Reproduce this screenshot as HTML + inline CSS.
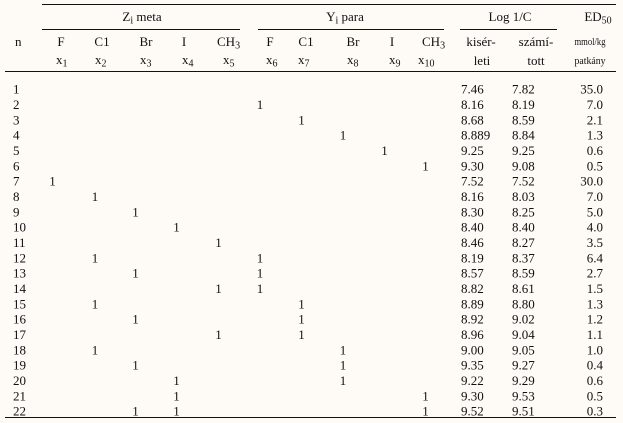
<!DOCTYPE html>
<html>
<head>
<meta charset="utf-8">
<style>
html,body{margin:0;padding:0;background:#fefaf6;}
svg{display:block;}
text{font-family:"Liberation Serif","DejaVu Serif",serif;font-size:13px;fill:#111;}
.s{font-size:10px;}
.sm{font-size:10px;}
</style>
</head>
<body>
<svg width="623" height="423" viewBox="0 0 623 423" xmlns="http://www.w3.org/2000/svg">
<rect x="0" y="0" width="623" height="423" fill="#fefaf6"/>
<!-- lines -->
<rect x="42" y="4" width="574" height="1" fill="#111"/>
<rect x="42" y="29" width="198" height="1" fill="#111"/>
<rect x="258" y="29" width="186" height="1" fill="#111"/>
<rect x="460" y="29" width="97" height="1" fill="#111"/>
<rect x="5" y="71" width="611" height="1" fill="#111"/>
<rect x="5" y="417" width="611" height="1" fill="#111"/>

<!-- header row 1 -->
<text x="142" y="21" text-anchor="middle">Z<tspan class="s" dy="2.5">i</tspan><tspan dy="-2.5"> meta</tspan></text>
<text x="345" y="21" text-anchor="middle">Y<tspan class="s" dy="2.5">i</tspan><tspan dy="-2.5"> para</tspan></text>
<text x="510" y="21" text-anchor="middle">Log 1/C</text>
<text x="598" y="21" text-anchor="middle">ED<tspan class="s" dy="2.5">50</tspan></text>

<!-- header row 2 -->
<text x="15" y="46">n</text>
<text x="61" y="46" text-anchor="middle">F</text>
<text x="102" y="46" text-anchor="middle">C1</text>
<text x="146" y="46" text-anchor="middle">Br</text>
<text x="184" y="46" text-anchor="middle">I</text>
<text x="217" y="46">CH<tspan class="s" dy="2.5">3</tspan></text>
<text x="270" y="46" text-anchor="middle">F</text>
<text x="306" y="46" text-anchor="middle">C1</text>
<text x="353" y="46" text-anchor="middle">Br</text>
<text x="392" y="46" text-anchor="middle">I</text>
<text x="422" y="46">CH<tspan class="s" dy="2.5">3</tspan></text>
<text x="481" y="46" text-anchor="middle">kisér-</text>
<text x="536" y="46" text-anchor="middle">számí-</text>
<text x="590" y="45" text-anchor="middle" class="sm" textLength="31" lengthAdjust="spacingAndGlyphs">mmol/kg</text>

<!-- header row 3 -->
<text x="56" y="64">x<tspan class="s" dy="2.5">1</tspan></text>
<text x="95" y="64">x<tspan class="s" dy="2.5">2</tspan></text>
<text x="140" y="64">x<tspan class="s" dy="2.5">3</tspan></text>
<text x="182" y="64">x<tspan class="s" dy="2.5">4</tspan></text>
<text x="223" y="64">x<tspan class="s" dy="2.5">5</tspan></text>
<text x="266" y="64">x<tspan class="s" dy="2.5">6</tspan></text>
<text x="298" y="64">x<tspan class="s" dy="2.5">7</tspan></text>
<text x="347" y="64">x<tspan class="s" dy="2.5">8</tspan></text>
<text x="389" y="64">x<tspan class="s" dy="2.5">9</tspan></text>
<text x="418" y="64">x<tspan class="s" dy="2.5">10</tspan></text>
<text x="482" y="65" text-anchor="middle">leti</text>
<text x="536" y="65" text-anchor="middle">tott</text>
<text x="590" y="64" text-anchor="middle" class="sm" textLength="31" lengthAdjust="spacingAndGlyphs">patkány</text>

<!-- data rows -->
<g>
<text x="13" y="93.7">1</text><text x="461" y="93.7">7.46</text><text x="512" y="93.7">7.82</text><text x="603" y="93.7" text-anchor="end">35.0</text>
<text x="13" y="109.0">2</text><text x="260" y="109.0" text-anchor="middle">1</text><text x="461" y="109.0">8.16</text><text x="512" y="109.0">8.19</text><text x="603" y="109.0" text-anchor="end">7.0</text>
<text x="13" y="124.4">3</text><text x="301.5" y="124.4" text-anchor="middle">1</text><text x="461" y="124.4">8.68</text><text x="512" y="124.4">8.59</text><text x="603" y="124.4" text-anchor="end">2.1</text>
<text x="13" y="139.7">4</text><text x="343" y="139.7" text-anchor="middle">1</text><text x="461" y="139.7">8.889</text><text x="512" y="139.7">8.84</text><text x="603" y="139.7" text-anchor="end">1.3</text>
<text x="13" y="155.0">5</text><text x="384.5" y="155.0" text-anchor="middle">1</text><text x="461" y="155.0">9.25</text><text x="512" y="155.0">9.25</text><text x="603" y="155.0" text-anchor="end">0.6</text>
<text x="13" y="170.4">6</text><text x="425.5" y="170.4" text-anchor="middle">1</text><text x="461" y="170.4">9.30</text><text x="512" y="170.4">9.08</text><text x="603" y="170.4" text-anchor="end">0.5</text>
<text x="13" y="185.7">7</text><text x="52.5" y="185.7" text-anchor="middle">1</text><text x="461" y="185.7">7.52</text><text x="512" y="185.7">7.52</text><text x="603" y="185.7" text-anchor="end">30.0</text>
<text x="13" y="201.0">8</text><text x="95" y="201.0" text-anchor="middle">1</text><text x="461" y="201.0">8.16</text><text x="512" y="201.0">8.03</text><text x="603" y="201.0" text-anchor="end">7.0</text>
<text x="13" y="216.3">9</text><text x="135.5" y="216.3" text-anchor="middle">1</text><text x="461" y="216.3">8.30</text><text x="512" y="216.3">8.25</text><text x="603" y="216.3" text-anchor="end">5.0</text>
<text x="13" y="231.7">10</text><text x="176.5" y="231.7" text-anchor="middle">1</text><text x="461" y="231.7">8.40</text><text x="512" y="231.7">8.40</text><text x="603" y="231.7" text-anchor="end">4.0</text>
<text x="13" y="247.0">11</text><text x="218.5" y="247.0" text-anchor="middle">1</text><text x="461" y="247.0">8.46</text><text x="512" y="247.0">8.27</text><text x="603" y="247.0" text-anchor="end">3.5</text>
<text x="13" y="262.3">12</text><text x="95" y="262.3" text-anchor="middle">1</text><text x="260" y="262.3" text-anchor="middle">1</text><text x="461" y="262.3">8.19</text><text x="512" y="262.3">8.37</text><text x="603" y="262.3" text-anchor="end">6.4</text>
<text x="13" y="277.7">13</text><text x="135.5" y="277.7" text-anchor="middle">1</text><text x="260" y="277.7" text-anchor="middle">1</text><text x="461" y="277.7">8.57</text><text x="512" y="277.7">8.59</text><text x="603" y="277.7" text-anchor="end">2.7</text>
<text x="13" y="293.0">14</text><text x="218.5" y="293.0" text-anchor="middle">1</text><text x="260" y="293.0" text-anchor="middle">1</text><text x="461" y="293.0">8.82</text><text x="512" y="293.0">8.61</text><text x="603" y="293.0" text-anchor="end">1.5</text>
<text x="13" y="308.3">15</text><text x="95" y="308.3" text-anchor="middle">1</text><text x="301.5" y="308.3" text-anchor="middle">1</text><text x="461" y="308.3">8.89</text><text x="512" y="308.3">8.80</text><text x="603" y="308.3" text-anchor="end">1.3</text>
<text x="13" y="323.7">16</text><text x="135.5" y="323.7" text-anchor="middle">1</text><text x="301.5" y="323.7" text-anchor="middle">1</text><text x="461" y="323.7">8.92</text><text x="512" y="323.7">9.02</text><text x="603" y="323.7" text-anchor="end">1.2</text>
<text x="13" y="339.0">17</text><text x="218.5" y="339.0" text-anchor="middle">1</text><text x="301.5" y="339.0" text-anchor="middle">1</text><text x="461" y="339.0">8.96</text><text x="512" y="339.0">9.04</text><text x="603" y="339.0" text-anchor="end">1.1</text>
<text x="13" y="354.3">18</text><text x="95" y="354.3" text-anchor="middle">1</text><text x="343" y="354.3" text-anchor="middle">1</text><text x="461" y="354.3">9.00</text><text x="512" y="354.3">9.05</text><text x="603" y="354.3" text-anchor="end">1.0</text>
<text x="13" y="369.7">19</text><text x="135.5" y="369.7" text-anchor="middle">1</text><text x="343" y="369.7" text-anchor="middle">1</text><text x="461" y="369.7">9.35</text><text x="512" y="369.7">9.27</text><text x="603" y="369.7" text-anchor="end">0.4</text>
<text x="13" y="385.0">20</text><text x="176.5" y="385.0" text-anchor="middle">1</text><text x="343" y="385.0" text-anchor="middle">1</text><text x="461" y="385.0">9.22</text><text x="512" y="385.0">9.29</text><text x="603" y="385.0" text-anchor="end">0.6</text>
<text x="13" y="400.3">21</text><text x="176.5" y="400.3" text-anchor="middle">1</text><text x="425.5" y="400.3" text-anchor="middle">1</text><text x="461" y="400.3">9.30</text><text x="512" y="400.3">9.53</text><text x="603" y="400.3" text-anchor="end">0.5</text>
<text x="13" y="415.6">22</text><text x="135.5" y="415.6" text-anchor="middle">1</text><text x="176.5" y="415.6" text-anchor="middle">1</text><text x="425.5" y="415.6" text-anchor="middle">1</text><text x="461" y="415.6">9.52</text><text x="512" y="415.6">9.51</text><text x="603" y="415.6" text-anchor="end">0.3</text>
</g>
</svg>
</body>
</html>
